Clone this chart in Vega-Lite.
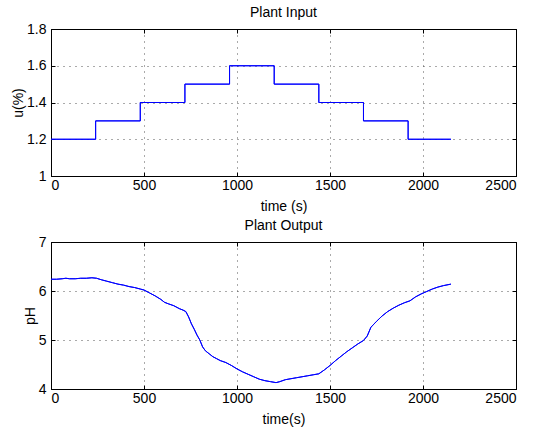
{
  "$schema": "https://vega.github.io/schema/vega-lite/v6.json",
  "background": "white",
  "padding": {"left": 11, "top": 5, "right": 5, "bottom": 5},
  "spacing": 4,
  "config": {
    "font": "Liberation Sans",
    "view": {"stroke": "black", "strokeWidth": 1},
    "axis": {
      "labelFont": "Liberation Sans", "labelFontSize": 14, "labelColor": "black",
      "titleFont": "Liberation Sans", "titleFontSize": 14, "titleColor": "black", "titleFontWeight": "normal",
      "domainColor": "black", "tickColor": "black", "tickSize": -4,
      "gridColor": "#444", "gridDash": [1, 5], "gridOpacity": 0.9
    },
    "axisX": {"labelPadding": 6},
    "axisY": {"labelPadding": 9},
    "title": {"font": "Liberation Sans", "fontSize": 14, "fontWeight": "normal", "color": "black", "offset": 2}
  },
  "datasets": {
    "input": [
      {"t": 0, "u": 1.2}, {"t": 240, "u": 1.3}, {"t": 480, "u": 1.4}, {"t": 720, "u": 1.5},
      {"t": 960, "u": 1.6}, {"t": 1200, "u": 1.5}, {"t": 1440, "u": 1.4}, {"t": 1680, "u": 1.3},
      {"t": 1920, "u": 1.2}, {"t": 2150, "u": 1.2}
    ],
    "output": [
      {"t": 0, "ph": 6.24}, {"t": 30, "ph": 6.24}, {"t": 60, "ph": 6.25}, {"t": 80, "ph": 6.26},
      {"t": 100, "ph": 6.25}, {"t": 130, "ph": 6.25}, {"t": 160, "ph": 6.26}, {"t": 190, "ph": 6.26},
      {"t": 220, "ph": 6.27}, {"t": 245, "ph": 6.26}, {"t": 270, "ph": 6.23}, {"t": 300, "ph": 6.2},
      {"t": 330, "ph": 6.17}, {"t": 360, "ph": 6.14}, {"t": 390, "ph": 6.12}, {"t": 420, "ph": 6.09},
      {"t": 450, "ph": 6.07}, {"t": 480, "ph": 6.04}, {"t": 500, "ph": 6.02}, {"t": 530, "ph": 5.96},
      {"t": 560, "ph": 5.9}, {"t": 590, "ph": 5.83}, {"t": 610, "ph": 5.77}, {"t": 630, "ph": 5.74},
      {"t": 660, "ph": 5.7}, {"t": 690, "ph": 5.64}, {"t": 710, "ph": 5.61}, {"t": 725, "ph": 5.58},
      {"t": 740, "ph": 5.47}, {"t": 755, "ph": 5.33}, {"t": 770, "ph": 5.22}, {"t": 785, "ph": 5.1},
      {"t": 800, "ph": 5.0}, {"t": 815, "ph": 4.86}, {"t": 830, "ph": 4.78}, {"t": 850, "ph": 4.72},
      {"t": 870, "ph": 4.66}, {"t": 890, "ph": 4.62}, {"t": 910, "ph": 4.58}, {"t": 940, "ph": 4.54},
      {"t": 970, "ph": 4.48}, {"t": 1000, "ph": 4.41}, {"t": 1030, "ph": 4.35}, {"t": 1060, "ph": 4.3},
      {"t": 1090, "ph": 4.25}, {"t": 1120, "ph": 4.2}, {"t": 1150, "ph": 4.17}, {"t": 1180, "ph": 4.15},
      {"t": 1210, "ph": 4.13}, {"t": 1230, "ph": 4.15}, {"t": 1260, "ph": 4.19}, {"t": 1290, "ph": 4.21},
      {"t": 1320, "ph": 4.23}, {"t": 1350, "ph": 4.25}, {"t": 1380, "ph": 4.27}, {"t": 1410, "ph": 4.29},
      {"t": 1440, "ph": 4.31}, {"t": 1470, "ph": 4.39}, {"t": 1500, "ph": 4.48}, {"t": 1530, "ph": 4.58},
      {"t": 1560, "ph": 4.67}, {"t": 1590, "ph": 4.76}, {"t": 1620, "ph": 4.84}, {"t": 1650, "ph": 4.92},
      {"t": 1680, "ph": 4.99}, {"t": 1700, "ph": 5.08}, {"t": 1720, "ph": 5.26}, {"t": 1750, "ph": 5.38},
      {"t": 1780, "ph": 5.49}, {"t": 1810, "ph": 5.58}, {"t": 1840, "ph": 5.65}, {"t": 1870, "ph": 5.71},
      {"t": 1900, "ph": 5.76}, {"t": 1930, "ph": 5.8}, {"t": 1960, "ph": 5.88}, {"t": 1990, "ph": 5.94},
      {"t": 2020, "ph": 5.99}, {"t": 2050, "ph": 6.04}, {"t": 2080, "ph": 6.08}, {"t": 2110, "ph": 6.11},
      {"t": 2150, "ph": 6.14}
    ]
  },
  "vconcat": [
    {
      "title": "Plant Input",
      "width": 465,
      "height": 147,
      "data": {"name": "input"},
      "layer": [
        {
          "mark": {"type": "line", "interpolate": "step-after", "color": "#0000ff", "strokeWidth": 1},
          "encoding": {
            "x": {"field": "t", "type": "quantitative", "scale": {"domain": [0, 2500], "nice": false},
                  "axis": {"title": "time (s)", "values": [0, 500, 1000, 1500, 2000, 2500], "format": "d", "titlePadding": 7}},
            "y": {"field": "u", "type": "quantitative", "scale": {"domain": [1, 1.8], "nice": false, "zero": false},
                  "axis": {"title": "u(%)", "values": [1, 1.2, 1.4, 1.6, 1.8], "format": "~g", "titlePadding": 1}}
          }
        },
        {
          "mark": {"type": "line", "interpolate": "step-after", "color": "#0000ff", "strokeWidth": 1},
          "encoding": {
            "x": {"field": "t", "type": "quantitative",
                  "axis": {"orient": "top", "title": null, "labels": false, "grid": false, "values": [0, 500, 1000, 1500, 2000, 2500]}},
            "y": {"field": "u", "type": "quantitative",
                  "axis": {"orient": "right", "title": null, "labels": false, "grid": false, "values": [1, 1.2, 1.4, 1.6, 1.8]}}
          }
        }
      ],
      "resolve": {"axis": {"x": "independent", "y": "independent"}}
    },
    {
      "title": "Plant Output",
      "width": 465,
      "height": 147,
      "data": {"name": "output"},
      "layer": [
        {
          "mark": {"type": "line", "color": "#0000ff", "strokeWidth": 1},
          "encoding": {
            "x": {"field": "t", "type": "quantitative", "scale": {"domain": [0, 2500], "nice": false},
                  "axis": {"title": "time(s)", "values": [0, 500, 1000, 1500, 2000, 2500], "format": "d", "titlePadding": 7}},
            "y": {"field": "ph", "type": "quantitative", "scale": {"domain": [4, 7], "nice": false, "zero": false},
                  "axis": {"title": "pH", "values": [4, 5, 6, 7], "format": "d", "titlePadding": 1}}
          }
        },
        {
          "mark": {"type": "line", "color": "#0000ff", "strokeWidth": 1},
          "encoding": {
            "x": {"field": "t", "type": "quantitative",
                  "axis": {"orient": "top", "title": null, "labels": false, "grid": false, "values": [0, 500, 1000, 1500, 2000, 2500]}},
            "y": {"field": "ph", "type": "quantitative",
                  "axis": {"orient": "right", "title": null, "labels": false, "grid": false, "values": [4, 5, 6, 7]}}
          }
        }
      ],
      "resolve": {"axis": {"x": "independent", "y": "independent"}}
    }
  ]
}
